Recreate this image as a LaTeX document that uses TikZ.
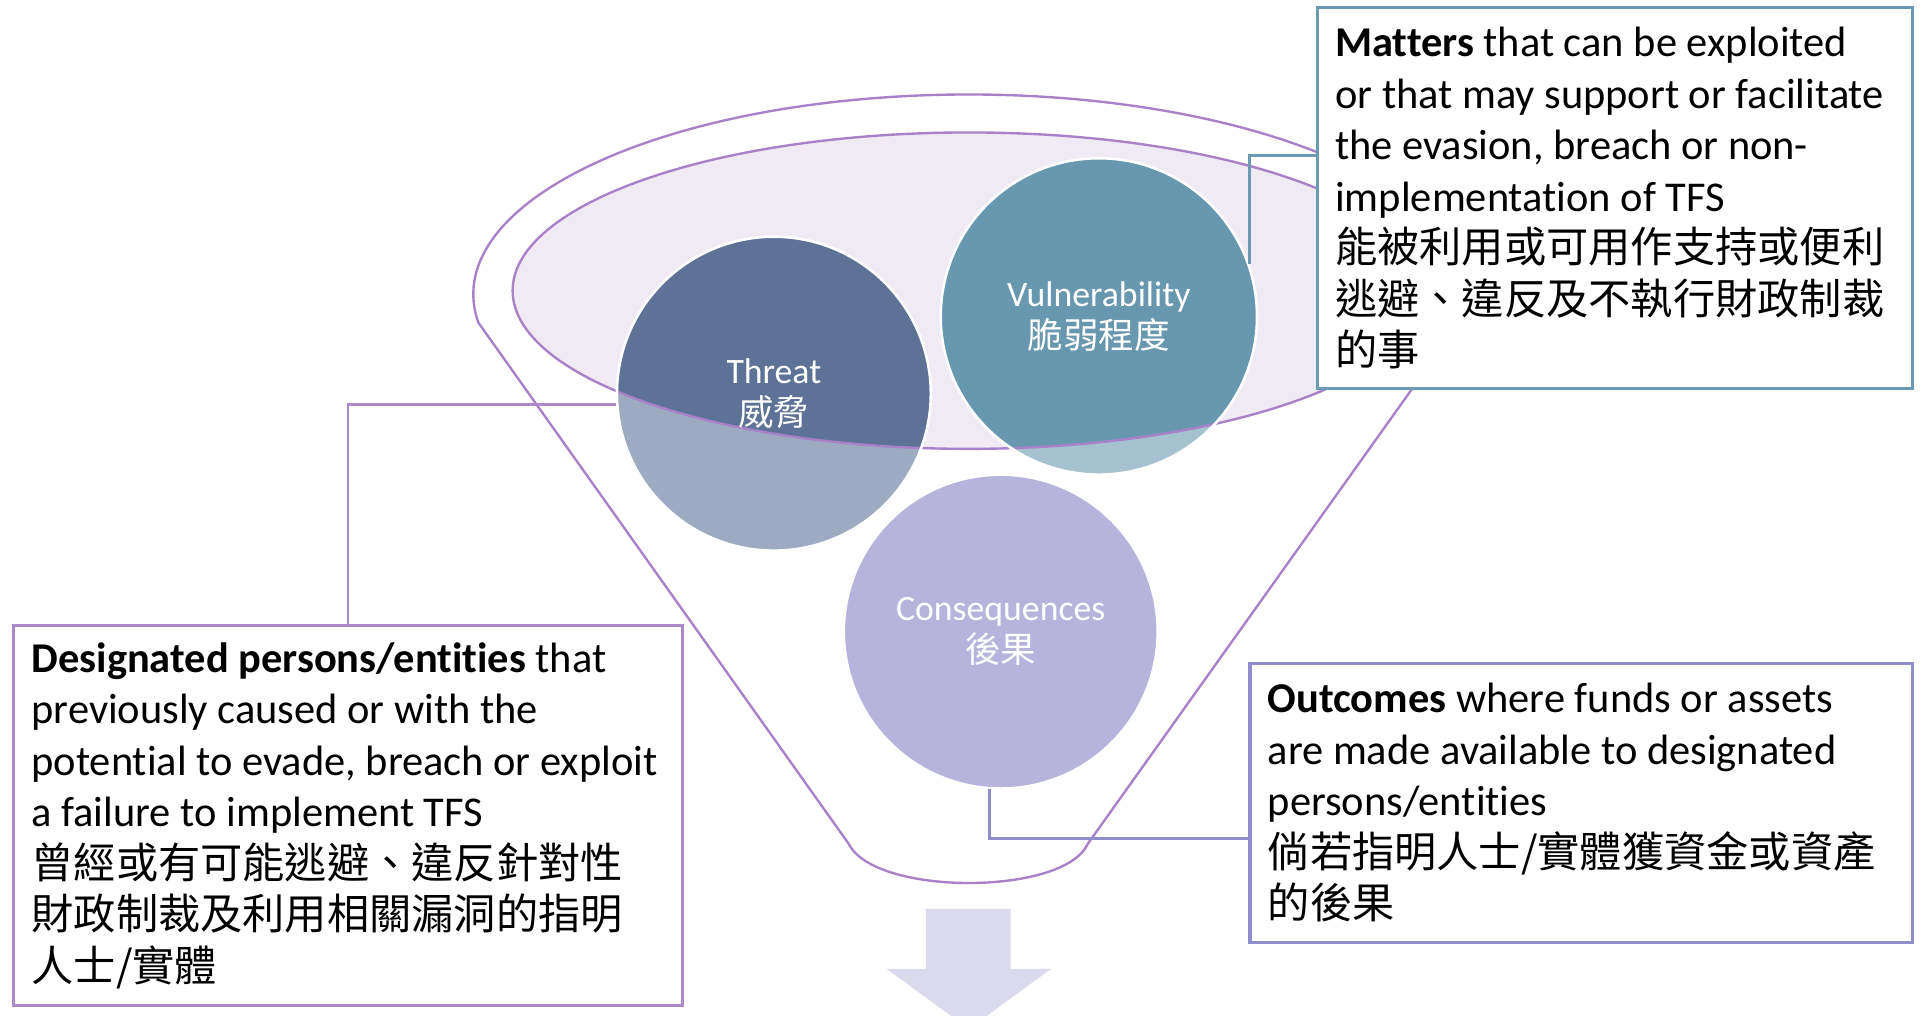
\documentclass[tikz,border=0pt]{standalone}
\usepackage{fontspec}
\setmainfont{Carlito}[Scale=1.005, Ligatures=NoCommon]
\newfontfamily\cjk{Noto Sans CJK TC}
\usetikzlibrary{calc}
\definecolor{funnelc}{HTML}{A881C8}
\definecolor{ellfill}{HTML}{F0EAF5}
\definecolor{thrdark}{HTML}{5E7197}
\definecolor{thrlight}{HTML}{9DAAC2}
\definecolor{vuldark}{HTML}{6898B0}
\definecolor{vullight}{HTML}{A6C1D0}
\definecolor{consc}{HTML}{B6B4DC}
\definecolor{mattc}{HTML}{6B9AB3}
\definecolor{desigc}{HTML}{AE88CC}
\definecolor{outcc}{HTML}{8F8DCC}
\definecolor{arrowc}{HTML}{DADAEC}
\newcommand\oneline[1]{\mbox{#1}}
\begin{document}
\begin{tikzpicture}[x=0.02cm,y=0.02cm,
  funnelline/.style={draw=funnelc, line width=1.1pt},
  circnode/.style={circle, draw=white, line width=1.2pt, inner sep=0pt, text=white, align=center, font=\fontsize{16.5}{19.3}\selectfont},
  boxnode/.style={draw, fill=white, line width=1.4pt, inner xsep=0.29cm, inner ysep=0pt, align=flush left, anchor=north west, font=\fontsize{19.6}{23.9}\selectfont},
  connline/.style={line width=1.3pt}]
\useasboundingbox (0,0) rectangle (1568,-828);
\clip (0,0) rectangle (1568,-828);
\fill[white] (0,0) rectangle (1568,-828);
% funnel outline
\draw[funnelline] (390,-263) arc[start angle=188.1, end angle=-8.1, x radius=404, y radius=163]
  -- (887,-688) .. controls (877,-710) and (832,-720) .. (790,-720)
  .. controls (748,-720) and (703,-710) .. (692,-688) -- cycle;
% inner ellipse fill
\fill[ellfill] (790,-237) ellipse[x radius=372, y radius=129];
% circle fills (outside part light)
\fill[thrlight] (631,-321) circle[radius=128];
\fill[vullight] (896,-258) circle[radius=129];
\begin{scope}
  \clip (790,-237) ellipse[x radius=372, y radius=129];
  \fill[thrdark] (631,-321) circle[radius=128];
  \fill[vuldark] (896,-258) circle[radius=129];
\end{scope}
\draw[funnelline] (790,-237) ellipse[x radius=372, y radius=129];
% circle nodes
\node[circnode, minimum size=5.12cm] (threat) at (631,-321) {Threat\\{\cjk 威脅}};
\node[circnode, minimum size=5.16cm] (vuln) at (896,-258) {Vulnerability\\{\cjk 脆弱程度}};
\node[circnode, fill=consc, minimum size=5.12cm] (cons) at (816,-515) {Consequences\\{\cjk 後果}};
% arrow
\fill[arrowc] (755,-741) -- (824,-741) -- (824,-790) -- (857,-790) -- (790,-839) -- (723,-790) -- (755,-790) -- cycle;
% boxes
\node[boxnode, draw=mattc, minimum width=9.70cm, minimum height=6.22cm, text width=9.12cm] (matters) at (1073,-5) {%
\oneline{\textbf{Matters} that can be exploited}\\
\oneline{or that may support or facilitate}\\
\oneline{the evasion, breach or non-}\\
\oneline{implementation of TFS}\\
\oneline{\cjk 能被利用或可用作支持或便利}\\
\oneline{\cjk 逃避、違反及不執行財政制裁}\\
\oneline{\cjk 的事}};
\node[boxnode, draw=desigc, minimum width=10.9cm, minimum height=6.2cm, text width=10.32cm] (desig) at (10,-509) {%
\oneline{\textbf{Designated persons/entities} that}\\
\oneline{previously caused or with the}\\
\oneline{potential to evade, breach or exploit}\\
\oneline{a failure to implement TFS}\\
\oneline{\cjk 曾經或有可能逃避、違反針對性}\\
\oneline{\cjk 財政制裁及利用相關漏洞的指明}\\
\oneline{\cjk 人士/實體}};
\node[boxnode, draw=outcc, minimum width=10.8cm, minimum height=4.54cm, text width=10.22cm] (outc) at (1018,-540) {%
\oneline{\textbf{Outcomes} where funds or assets}\\
\oneline{are made available to designated}\\
\oneline{persons/entities}\\
\oneline{\cjk 倘若指明人士/實體獲資金或資產}\\
\oneline{\cjk 的後果}};
% connectors
\draw[connline, desigc] (threat.184.5) -| (desig.north);
\draw[connline, mattc] (vuln.19) |- ($(matters.north west)!0.389!(matters.south west)$);
\draw[connline, outcc] (cons.266) |- ($(outc.north west)!0.626!(outc.south west)$);
\end{tikzpicture}
\end{document}
